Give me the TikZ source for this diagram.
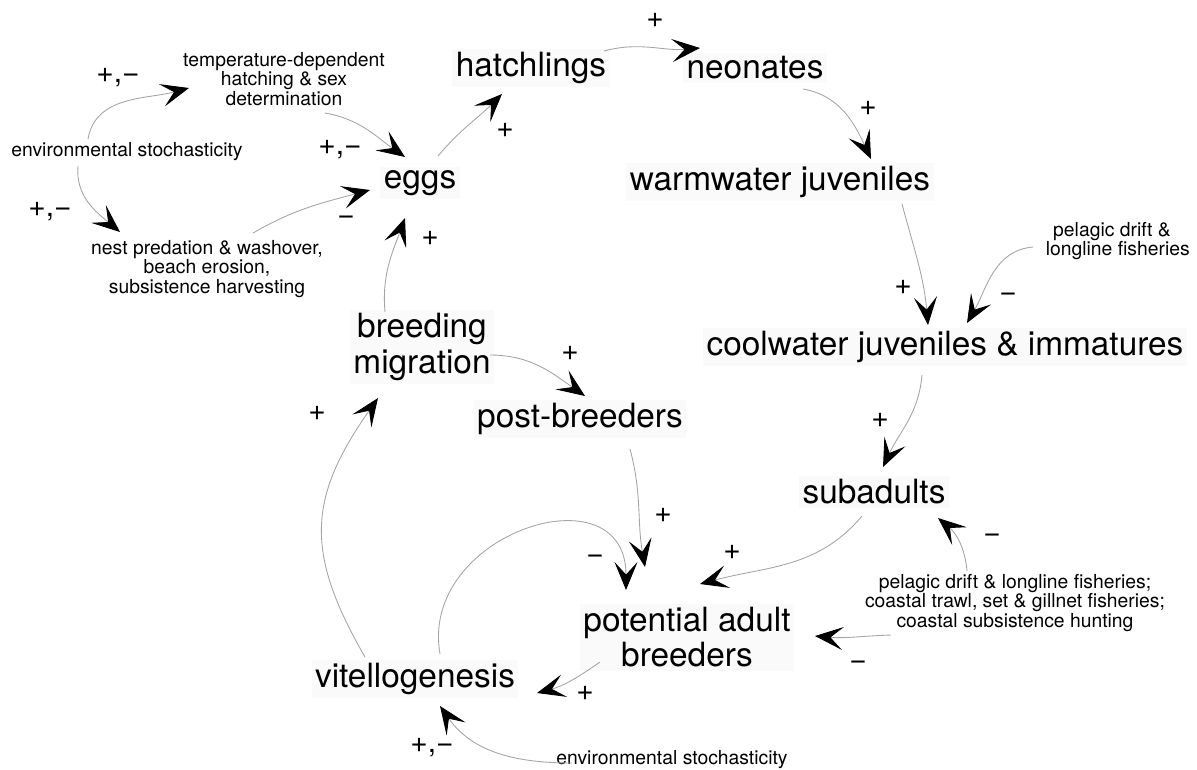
\documentclass[tikz,border=0pt]{standalone}
\usepackage{fontspec}
\setmainfont{TeX Gyre Heros}
\usetikzlibrary{calc}
\usetikzlibrary{arrows.meta}
\definecolor{c1}{RGB}{165,165,165}
\definecolor{c2}{RGB}{250,250,250}

\tikzset{
  stage/.style={font=\fontsize{19}{20}\selectfont, align=center, inner sep=2pt, fill=c2},
  factor/.style={font=\fontsize{11}{11}\selectfont, align=center, inner sep=1pt},
  sign/.style={font=\fontsize{17}{17}\selectfont, inner sep=0pt},
  link/.style={draw=c1, line width=0.5pt, -{Stealth[length=0.56cm,width=0.46cm,inset=0.25cm,black]}},
}

\begin{document}
\begin{tikzpicture}
    \useasboundingbox (0,0) rectangle (23.94,-15.38);
    % life stages
    \node[stage] (eggs) at (8.4,-3.66) {eggs};
    \node[stage] (hatch) at (10.62,-1.36) {hatchlings};
    \node[stage] (neon) at (15.1,-1.36) {neonates};
    \node[stage] (warm) at (15.6,-3.64) {warmwater juveniles};
    \node[stage] (cool) at (18.9,-6.94) {coolwater juveniles \& immatures};
    \node[stage] (sub) at (17.48,-9.84) {subadults};
    \node[stage] (pab) at (13.74,-12.74) {potential adult\\breeders};
    \node[stage] (vit) at (8.3,-13.58) {vitellogenesis};
    \node[stage] (breed) at (8.44,-6.94) {breeding\\migration};
    \node[stage] (post) at (11.6,-8.38) {post-breeders};
    % outside factors
    \node[factor] (tempdep) at (5.68,-1.58) {temperature-dependent\\hatching \& sex\\determination};
    \node[factor] (env1) at (2.54,-3.04) {environmental stochasticity};
    \node[factor] (nest) at (4.14,-5.38) {nest predation \& washover,\\beach erosion,\\subsistence harvesting};
    \node[factor] (pel1) at (22.24,-4.82) {pelagic drift \&\\\hspace*{0.6em}longline fisheries};
    \node[factor] (pel2) at (20.3,-12.06) {pelagic drift \& longline fisheries;\\coastal trawl, set \& gillnet fisheries;\\coastal subsistence hunting};
    \node[factor] (env2) at (13.44,-15.2) {environmental stochasticity};

    % links around the egg stage
    \draw[link] ($(env1)+(-0.78,0.26)$) to[out=80,in=195] ($(tempdep)+(-1.9,-0.18)$);
    \draw[link] ($(env1)+(-0.98,-0.28)$) to[out=-95,in=140] ($(nest)+(-1.74,0.74)$);
    \draw[link] ($(tempdep)+(0.82,-0.68)$) to[out=-10,in=145] ($(eggs)+(-0.3,0.52)$);
    \draw[link] ($(nest)+(0.92,0.72)$) to[out=30,in=195] ($(eggs)+(-1.0,-0.14)$);
    \draw[link] ($(breed)+(-0.74,0.7)$) to[out=95,in=250] ($(eggs)+(-0.3,-0.7)$);
    \draw[link] ($(eggs)+(0.36,0.54)$) to[out=50,in=225] ($(hatch)+(-0.58,-0.52)$);
    % young ones going out to sea
    \draw[link] ($(hatch)+(1.46,0.34)$) to[out=15,in=185] ($(neon)+(-1.1,0.4)$);
    \draw[link] ($(neon)+(0.96,-0.42)$) to[out=-10,in=115] ($(warm)+(1.82,0.46)$);
    \draw[link] ($(warm)+(2.44,-0.44)$) to[out=-75,in=95] ($(cool)+(-0.34,0.44)$);
    \draw[link] ($(pel1)+(-1.58,-0.12)$) to[out=185,in=60] ($(cool)+(0.44,0.48)$);
    \draw[link] ($(cool)+(-0.46,-0.56)$) to[out=-95,in=65] ($(sub)+(0.18,0.5)$);
    \draw[link] ($(pel2)+(-0.96,0.64)$) to[out=95,in=-40] ($(sub)+(1.28,-0.52)$);
    \draw[link] ($(sub)+(-0.24,-0.48)$) to[out=-130,in=15] ($(pab)+(0.26,1.06)$);
    \draw[link] ($(pel2)+(-2.48,-0.64)$) to[out=182,in=-5] ($(pab)+(2.56,0.02)$);
    % adults and breeding
    \draw[link] ($(post)+(1.0,-0.6)$) to[out=-75,in=100] ($(pab)+(-0.84,1.4)$);
    \draw[link] ($(vit)+(0.5,0.5)$) to[out=100,in=90,looseness=1.6] ($(pab)+(-1.22,0.94)$);
    \draw[link] ($(pab)+(-1.74,-0.5)$) to[out=-145,in=15] ($(vit)+(2.44,-0.28)$);
    \draw[link] ($(vit)+(-1.0,0.44)$) to[out=120,in=235,looseness=1.2] ($(breed)+(-0.88,-1.02)$);
    \draw[link] ($(breed)+(1.36,-0.16)$) to[out=0,in=145] ($(post)+(0.1,0.46)$);
    \draw[link] ($(env2)+(-2.0,-0.06)$) to[out=180,in=-55] ($(vit)+(0.5,-0.54)$);

    % signs of the links
    \node[sign] (s1) at (2.36,-1.56) {+,−};
    \node[sign] (s2) at (6.8,-3.0) {+,−};
    \node[sign] (s3) at (1.0,-4.24) {+,−};
    \node[sign] (s4) at (6.92,-4.4) {−};
    \node[sign] (s5) at (8.6,-4.76) {+};
    \node[sign] (s6) at (10.1,-2.6) {+};
    \node[sign] (s7) at (13.1,-0.4) {+};
    \node[sign] (s8) at (17.36,-2.16) {+};
    \node[sign] (s9) at (18.06,-5.74) {+};
    \node[sign] (s10) at (20.16,-5.94) {−};
    \node[sign] (s11) at (17.6,-8.4) {+};
    \node[sign] (s12) at (19.84,-10.76) {−};
    \node[sign] (s13) at (11.4,-7.06) {+};
    \node[sign] (s14) at (13.26,-10.3) {+};
    \node[sign] (s15) at (11.9,-11.18) {−};
    \node[sign] (s16) at (14.64,-11.04) {+};
    \node[sign] (s17) at (17.16,-13.3) {−};
    \node[sign] (s18) at (11.7,-13.86) {+};
    \node[sign] (s19) at (6.34,-8.26) {+};
    \node[sign] (s20) at (8.64,-14.96) {+,−};
\end{tikzpicture}
\end{document}
